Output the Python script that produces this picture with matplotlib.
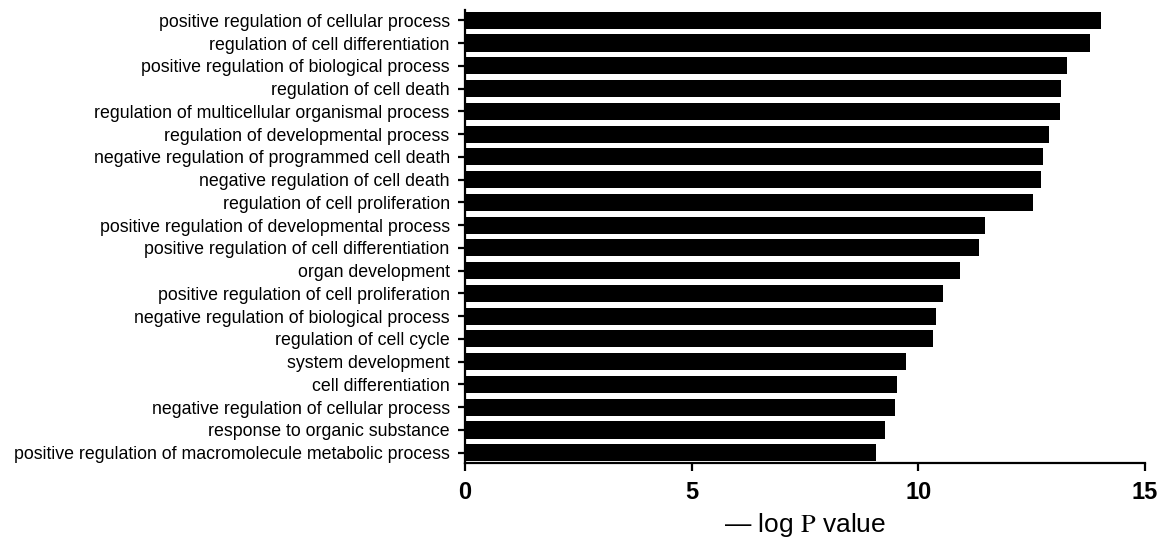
import matplotlib
matplotlib.use("Agg")
import matplotlib.pyplot as plt

categories = [
    "positive regulation of cellular process",
    "regulation of cell differentiation",
    "positive regulation of biological process",
    "regulation of cell death",
    "regulation of multicellular organismal process",
    "regulation of developmental process",
    "negative regulation of programmed cell death",
    "negative regulation of cell death",
    "regulation of cell proliferation",
    "positive regulation of developmental process",
    "positive regulation of cell differentiation",
    "organ development",
    "positive regulation of cell proliferation",
    "negative regulation of biological process",
    "regulation of cell cycle",
    "system development",
    "cell differentiation",
    "negative regulation of cellular process",
    "response to organic substance",
    "positive regulation of macromolecule metabolic process",
]
values = [14.02, 13.78, 13.27, 13.15, 13.13, 12.89, 12.76, 12.71, 12.52, 11.48,
          11.34, 10.91, 10.55, 10.38, 10.33, 9.73, 9.53, 9.49, 9.27, 9.06]
xticks = [0, 5, 10, 15]

plt.rcParams['font.family'] = ['Liberation Sans', 'DejaVu Sans']
plt.rcParams['mathtext.fontset'] = 'stix'

fig = plt.figure(figsize=(11.75, 5.44), dpi=100)
ax = fig.add_axes([465/1175, 1 - 463/544, (1145 - 465)/1175, (463 - 10)/544])

ypos = list(range(len(categories)))
ax.barh(ypos, values, height=0.75, color='black')
ax.set_ylim(len(categories) - 0.55, -0.45)
ax.set_xlim(0, 15)
ax.set_xticks(xticks)
ax.set_xticklabels([str(t) for t in xticks], fontsize=17, fontweight='bold')
ax.set_yticks(ypos)
ax.set_yticklabels(categories, fontsize=12.8)

for s in ['top', 'right']:
    ax.spines[s].set_visible(False)
for s in ['left', 'bottom']:
    ax.spines[s].set_linewidth(1.6)
ax.tick_params(axis='x', length=6, width=1.6, pad=7)
ax.tick_params(axis='y', length=5, width=1.6, pad=6)

ax.set_xlabel(r'— log $\mathrm{P}$ value', fontsize=19, labelpad=5)

fig.savefig('out.png', dpi=100)
